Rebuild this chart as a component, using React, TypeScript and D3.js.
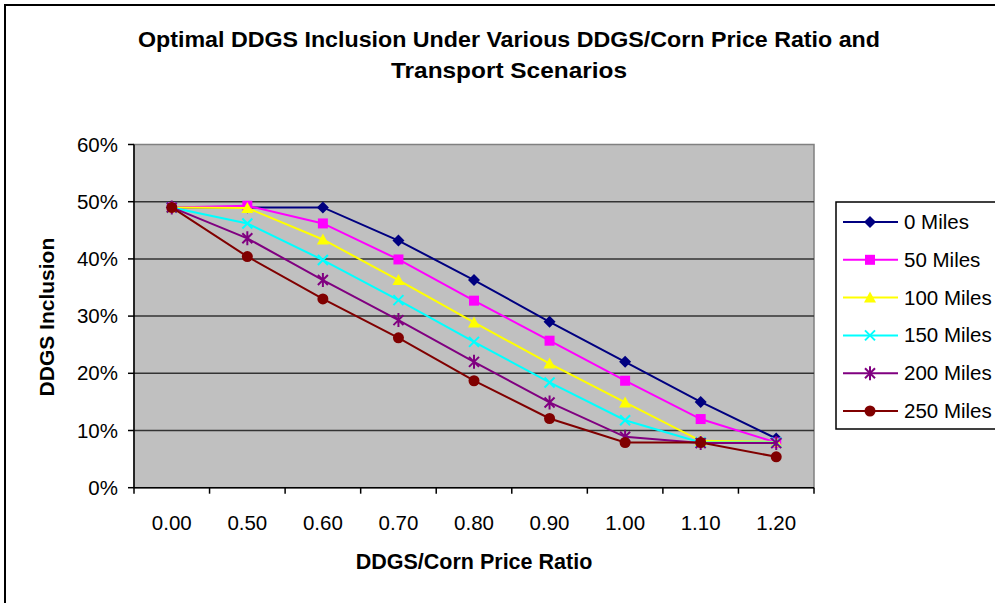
import { useMemo } from "react";
import * as d3 from "d3";

const ratios = ["0.00", "0.50", "0.60", "0.70", "0.80", "0.90", "1.00", "1.10", "1.20"];
const yTicks = [0, 0.1, 0.2, 0.3, 0.4, 0.5, 0.6];

const miles0 = [0.49, 0.49, 0.49, 0.432, 0.363, 0.29, 0.22, 0.15, 0.086];
const miles50 = [0.49, 0.493, 0.462, 0.399, 0.327, 0.257, 0.187, 0.12, 0.079];
const miles100 = [0.49, 0.489, 0.434, 0.363, 0.289, 0.217, 0.149, 0.082, 0.08];
const miles150 = [0.49, 0.462, 0.398, 0.328, 0.255, 0.184, 0.118, 0.079, 0.079];
const miles200 = [0.49, 0.436, 0.363, 0.293, 0.22, 0.149, 0.089, 0.078, 0.078];
const miles250 = [0.49, 0.404, 0.33, 0.262, 0.187, 0.121, 0.079, 0.079, 0.054];

const series = [
  { name: "0 Miles", values: miles0, color: "#000080", marker: "diamond" },
  { name: "50 Miles", values: miles50, color: "#FF00FF", marker: "square" },
  { name: "100 Miles", values: miles100, color: "#FFFF00", marker: "triangle" },
  { name: "150 Miles", values: miles150, color: "#00FFFF", marker: "x" },
  { name: "200 Miles", values: miles200, color: "#800080", marker: "star" },
  { name: "250 Miles", values: miles250, color: "#800000", marker: "circle" },
];

const font = "'Liberation Sans', Arial, sans-serif";

// one marker, drawn around (0,0)
const Marker = ({ type, color }: { type: string; color: string }) => {
  if (type === "diamond")
    return <path d="M0,-6L6,0L0,6L-6,0Z" fill={color} />;
  if (type === "square")
    return <rect x={-5} y={-5} width={10} height={10} fill={color} />;
  if (type === "triangle")
    return <path d="M0,-6L6,5L-6,5Z" fill={color} />;
  if (type === "x")
    return (
      <path d="M-5,-5L5,5M5,-5L-5,5" stroke={color} strokeWidth={2} fill="none" />
    );
  if (type === "star")
    return (
      <path
        d="M-5,-5L5,5M5,-5L-5,5M0,-7L0,7"
        stroke={color}
        strokeWidth={2}
        fill="none"
      />
    );
  return <circle r={5.5} fill={color} />;
};

export default function App() {
  const width = 995;
  const height = 603;
  const plot = { left: 134, right: 814, top: 144.5, bottom: 487.7 };

  const xScale = useMemo(
    () => d3.scaleBand().domain(ratios).range([plot.left, plot.right]).padding(0),
    []
  );
  const yScale = useMemo(
    () => d3.scaleLinear().domain([0, 0.6]).range([plot.bottom, plot.top]),
    []
  );
  const bw = xScale.bandwidth();
  const cx = (c: string) => (xScale(c) as number) + bw / 2;
  const pct = d3.format(".0%");

  const lineGen = d3
    .line<number>()
    .x((_, i) => cx(ratios[i]))
    .y((d) => yScale(d));

  const boundaries = [...ratios.map((c) => xScale(c) as number), plot.right];

  const legendX = 836;
  const legendTop = 202;
  const rowH = 37.8;

  return (
    <svg
      width={width}
      height={height}
      style={{ position: "absolute", left: 0, top: 0, background: "#fff" }}
      fontFamily={font}
    >
      <rect x={5} y={5} width={1000} height={610} fill="#fff" stroke="#000" strokeWidth={2} />

      <text x={509} y={47} textAnchor="middle" fontSize={22} fontWeight="bold" fill="#000"
        textLength={742} lengthAdjust="spacingAndGlyphs">
        Optimal DDGS Inclusion Under Various DDGS/Corn Price Ratio and
      </text>
      <text x={509} y={78} textAnchor="middle" fontSize={22} fontWeight="bold" fill="#000"
        textLength={236} lengthAdjust="spacingAndGlyphs">
        Transport Scenarios
      </text>

      <rect
        x={plot.left}
        y={plot.top}
        width={plot.right - plot.left}
        height={plot.bottom - plot.top}
        fill="#C0C0C0"
        stroke="#808080"
        strokeWidth={1.5}
      />

      {yTicks.slice(1, -1).map((t) => (
        <line
          key={t}
          x1={plot.left}
          x2={plot.right}
          y1={yScale(t)}
          y2={yScale(t)}
          stroke="#333"
          strokeWidth={1.5}
        />
      ))}

      <line x1={plot.left} x2={plot.left} y1={plot.top} y2={plot.bottom} stroke="#000" strokeWidth={1.5} />
      <line x1={plot.left} x2={plot.right} y1={plot.bottom} y2={plot.bottom} stroke="#000" strokeWidth={1.5} />

      {yTicks.map((t) => (
        <g key={t}>
          <line x1={plot.left - 6} x2={plot.left} y1={yScale(t)} y2={yScale(t)} stroke="#000" strokeWidth={1.5} />
          <text x={plot.left - 16} y={yScale(t) + 7} textAnchor="end" fontSize={20.5} fill="#000">
            {pct(t)}
          </text>
        </g>
      ))}

      {boundaries.map((b, i) => (
        <line key={i} x1={b} x2={b} y1={plot.bottom} y2={plot.bottom + 6} stroke="#000" strokeWidth={1.5} />
      ))}
      {ratios.map((c) => (
        <text key={c} x={cx(c)} y={530} textAnchor="middle" fontSize={20.5} fill="#000">
          {c}
        </text>
      ))}

      <text x={474} y={569} textAnchor="middle" fontSize={21.5} fontWeight="bold" fill="#000">
        DDGS/Corn Price Ratio
      </text>
      <text
        transform={`translate(54,${(plot.top + plot.bottom) / 2 + 1}) rotate(-90)`}
        textAnchor="middle"
        fontSize={21}
        fontWeight="bold"
        fill="#000"
      >
        DDGS Inclusion
      </text>

      {series.map((s) => (
        <g key={s.name}>
          <path d={lineGen(s.values) ?? ""} fill="none" stroke={s.color} strokeWidth={2} />
          {s.values.map((v, i) => (
            <g key={i} transform={`translate(${cx(ratios[i])},${yScale(v)})`}>
              <Marker type={s.marker} color={s.color} />
            </g>
          ))}
        </g>
      ))}

      <rect x={legendX} y={legendTop} width={170} height={227} fill="#fff" stroke="#000" strokeWidth={1.5} />
      {series.map((s, i) => {
        const y = legendTop + 20 + i * rowH;
        return (
          <g key={s.name}>
            <line x1={843} x2={898} y1={y} y2={y} stroke={s.color} strokeWidth={2} />
            <g transform={`translate(870,${y})`}>
              <Marker type={s.marker} color={s.color} />
            </g>
            <text x={904} y={y + 7} fontSize={20.5} fill="#000">
              {s.name}
            </text>
          </g>
        );
      })}
    </svg>
  );
}
